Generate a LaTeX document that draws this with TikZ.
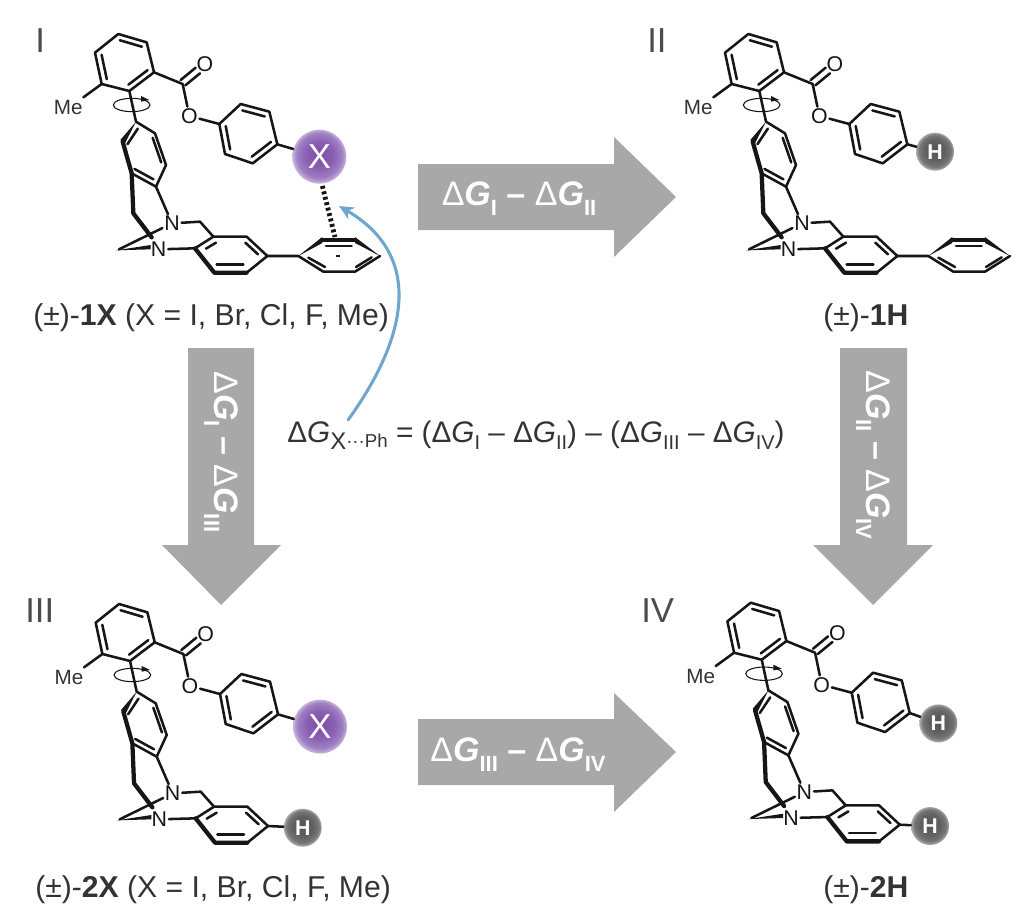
\documentclass[tikz,border=0pt]{standalone}
\usepackage{fontspec}
\setmainfont{Liberation Sans}
\usetikzlibrary{arrows.meta,calc}
\definecolor{bondc}{HTML}{161616}
\definecolor{labelc}{HTML}{333333}
\definecolor{blockc}{HTML}{A8A8A8}
\definecolor{bluec}{HTML}{6FA6CE}
\definecolor{xa}{HTML}{7A4EA6}
\definecolor{xb}{HTML}{8A60B2}
\definecolor{xc}{HTML}{9F80C4}
\definecolor{xd}{HTML}{DCCFEA}
\definecolor{ha}{HTML}{555555}
\definecolor{hb}{HTML}{606060}
\definecolor{hc}{HTML}{767676}
\definecolor{hd}{HTML}{C8C8C8}
\pgfdeclareradialshading{xball}{\pgfpoint{0bp}{3bp}}{color(0bp)=(xa);color(13bp)=(xb);color(21bp)=(xc);color(27bp)=(xd);color(30bp)=(xd)}
\pgfdeclareradialshading{hball}{\pgfpoint{0bp}{3bp}}{color(0bp)=(ha);color(13bp)=(hb);color(21bp)=(hc);color(27bp)=(hd);color(30bp)=(hd)}
\newcommand{\sbs}[1]{\raisebox{-0.45ex}{\fontsize{15pt}{16pt}\selectfont #1}}
\newcommand{\sbb}[1]{\raisebox{-0.55ex}{\fontsize{16.5pt}{17pt}\selectfont #1}}
\newcommand{\dG}[1]{Δ\textit{G}\sbs{#1}}
\newcommand{\dGb}[1]{{\mdseries Δ}\textit{G}\sbb{#1}}
\newcommand{\inner}[3]{\draw[bond] ($(#1)!0.22!(#3)$) -- ($(#2)!0.22!(#3)$);}
\tikzset{
  bond/.style={draw=bondc,line width=1.9pt,line cap=round,line join=round},
  thickbond/.style={draw=bondc,line width=3.2pt,line cap=round,line join=round},
  atom/.style={font=\fontsize{15pt}{16pt}\selectfont,text=bondc,inner sep=1.2pt},
  molbase/.style={font=\fontsize{22.6pt}{24pt}\selectfont,text=labelc,anchor=base west,inner sep=0pt},
  numeral/.style={font=\fontsize{26pt}{28pt}\selectfont,text=black!70,anchor=base west,inner sep=0pt},
  blockarrow/.style={fill=blockc,draw=none},
  arrowtext/.style={font=\fontsize{25.5pt}{27pt}\selectfont\bfseries,text=white,inner sep=0pt},
  rotarrowtext/.style={arrowtext,rotate=-90},
  xballn/.style={circle,shading=xball,minimum size=40.5pt,inner sep=0pt,text=white,font=\fontsize{26pt}{28pt}\selectfont},
  hballn/.style={circle,shading=hball,minimum size=28.5pt,inner sep=0pt,text=white,font=\fontsize{16pt}{18pt}\selectfont\bfseries}
}
\newcommand{\molcore}[3]{%
\begin{scope}[shift={(30+#1,10+#2)},x=.25pt,y=-.25pt,name prefix=#3-]
  \coordinate (a1) at (195,128); \coordinate (a2) at (265,72); \coordinate (a3) at (350,97);
  \coordinate (a4) at (372,187); \coordinate (a5) at (298,243); \coordinate (a6) at (215,222);
  \coordinate (ac) at (285,157);
  \draw[bond] (a1)--(a2)--(a3)--(a4)--(a5)--(a6)--cycle;
  \inner{a1}{a6}{ac}\inner{a2}{a3}{ac}\inner{a4}{a5}{ac}
  \node[atom,font=\fontsize{15.5pt}{16pt}\selectfont,text=labelc] (me) at (115,293) {Me};
  \draw[bond] (a6)--(160,262);
  \coordinate (c7) at (458,222);
  \node[atom,font=\fontsize{16pt}{17pt}\selectfont] (o1) at (525,163) {O};
  \node[atom,font=\fontsize{16pt}{17pt}\selectfont] (o2) at (478,318) {O};
  \draw[bond] (a4)--(c7)--(o2);
  \draw[bond] (452,210)--(497,173);
  \draw[bond] (466,226)--(510,190);
  \coordinate (e1) at (568,342); \coordinate (e2) at (632,282); \coordinate (e3) at (718,305);
  \coordinate (e4) at (742,403); \coordinate (e5) at (668,460); \coordinate (e6) at (585,432);
  \coordinate (ec) at (655,370);
  \draw[bond] (e1)--(e2)--(e3)--(e4)--(e5)--(e6)--cycle;
  \inner{e1}{e6}{ec}\inner{e2}{e3}{ec}\inner{e4}{e5}{ec}
  \draw[bond] (o2)--(e1);
  \coordinate (b1) at (318,335); \coordinate (b2) at (375,370); \coordinate (b3) at (408,465);
  \coordinate (b4) at (378,530); \coordinate (b5) at (305,490); \coordinate (b6) at (278,395);
  \coordinate (bc) at (343,430);
  \draw[bond] (b1)--(b2)--(b3)--(b4)--(b5);
  \fill[bondc] (b1) -- ($(b6)+(-7,-5)$) -- ($(b6)+(7,5)$) -- cycle;
  \draw[thickbond] (b6)--(b5)--(310,610)--(365,682);
  \inner{b1}{b6}{bc}\inner{b2}{b3}{bc}\inner{b4}{b5}{bc}
  \draw[bond] (a5)--(b1);
  \draw[draw=bondc,line width=.8pt] (305,285) ellipse [x radius=55,y radius=20];
  \fill[bondc] (333,258)--(358,270)--(333,275)--cycle;
  \node[atom,font=\fontsize{16pt}{17pt}\selectfont] (nu) at (426,640) {N};
  \node[atom,font=\fontsize{16pt}{17pt}\selectfont] (nl) at (386,718) {N};
  \draw[bond] (b4)--(nu);
  \draw[bond] (267,718)--(nu);
  \fill[bondc] (258,721)--(362,705)--(362,718)--cycle;
  \coordinate (ch) at (510,635);
  \coordinate (c1) at (550,680); \coordinate (c2) at (650,680); \coordinate (c3) at (712,738);
  \coordinate (c4) at (650,788); \coordinate (c5) at (553,788); \coordinate (c6) at (495,715);
  \draw[bond] (nu)--(ch)--(c1);
  \draw[bond] (c1)--(c2)--(c3)--(c4);
  \draw[bond] (c6)--(c1);
  \draw[thickbond] (c6)--(c5)--(c4);
  \draw[bond] (nl)--(c6);
  \draw[bond] (558,698)--(528,716);
  \draw[bond] (646,698)--(684,733);
  \draw[bond] (560,763)--(640,763);
\end{scope}}
\newcommand{\topball}[6]{%
\begin{scope}[shift={(30+#1,10+#2)},x=.25pt,y=-.25pt,name prefix=#3-]
  \node[#4] (tb) at (#5) {#6};
  \draw[bond] (e4)--(tb);
\end{scope}}
\newcommand{\lowball}[4]{%
\begin{scope}[shift={(30+#1,10+#2)},x=.25pt,y=-.25pt,name prefix=#3-]
  \node[hballn] (lb) at (#4) {H};
  \draw[bond] (c3)--(lb);
\end{scope}}
\newcommand{\ringd}[3]{%
\begin{scope}[shift={(30+#1,10+#2)},x=.25pt,y=-.25pt,name prefix=#3-]
  \coordinate (d1) at (805,738); \coordinate (d2) at (875,690); \coordinate (d3) at (975,690);
  \coordinate (d4) at (1050,738); \coordinate (d5) at (975,785); \coordinate (d6) at (880,785);
  \draw[bond] (c3)--(d1)--(d6)--(d5)--(d4);
  \fill[bondc] (d1) -- ($(d2)+(2,-9)$) -- ($(d2)+(2,9)$) -- cycle;
  \draw[thickbond] (d2)--(d3);
  \fill[bondc] (d4) -- ($(d3)+(0,-9)$) -- ($(d3)+(0,9)$) -- cycle;
  \draw[bond] (888,708)--(965,708);
  \draw[bond] (835,743)--(885,771);
  \draw[bond] (978,771)--(1025,742);
\end{scope}}
\begin{document}
\begin{tikzpicture}[x=.75pt,y=-.75pt]
\useasboundingbox (0,0) rectangle (1017,924);
\fill[blockarrow] (418,164)--(614,164)--(614,137)--(676,197)--(614,257)--(614,230)--(418,230)--cycle;
\fill[blockarrow] (418,719)--(614,719)--(614,693)--(676,752)--(614,812)--(614,785)--(418,785)--cycle;
\fill[blockarrow] (188,348)--(254,348)--(254,545)--(281,545)--(221,605)--(162,545)--(188,545)--cycle;
\fill[blockarrow] (840,348)--(907,348)--(907,545)--(933,545)--(873,605)--(813,545)--(840,545)--cycle;
\node[arrowtext,anchor=center] (t12) at (519,199) {\dGb{I} – \dGb{II}};
\node[arrowtext,anchor=center] (t34) at (518,755) {\dGb{III} – \dGb{IV}};
\node[rotarrowtext,anchor=center] (t13) at (221,452) {\dGb{I} – \dGb{III}};
\node[rotarrowtext,anchor=center] (t24) at (873,455) {\dGb{II} – \dGb{IV}};
\molcore{0}{0}{A}
\molcore{630}{0}{B}
\molcore{0.7}{570}{C}
\molcore{632.4}{568.7}{D}
\topball{0}{0}{A}{xballn}{868,440}{X}
\topball{630}{0}{B}{hballn}{825,425}{H}
\topball{0.7}{570}{C}{xballn}{868,440}{X}
\topball{632.4}{568.7}{D}{hballn}{828,434}{H}
\ringd{0}{0}{A}
\ringd{630}{0}{B}
\lowball{0.7}{570}{C}{816,743}
\lowball{632.4}{568.7}{D}{803,742}
\coordinate (hatche) at (335,237);
\draw[draw=bondc,line width=3.6pt,dash pattern=on 2.2pt off 2pt] (A-tb.south) ++(3,2) -- (hatche);
\node[inner sep=0pt,minimum width=3pt,minimum height=1pt,fill=bondc] (dcdot) at (338,256) {};
\coordinate (bs) at (348,420);
\coordinate (bt) at (339,206);
\draw[draw=bluec,line width=2.3pt,line cap=round,-{Stealth[length=11pt,width=10pt]}] (bs) .. controls (388,365) and (440,265) .. (bt);
\node[molbase] (l1) at (33,325) {(±)-\textbf{1X} (X = I, Br, Cl, F, Me)};
\node[molbase] (l2) at (823,325) {(±)-\textbf{1H}};
\node[molbase] (l3) at (35,897) {(±)-\textbf{2X} (X = I, Br, Cl, F, Me)};
\node[molbase] (l4) at (823,897) {(±)-\textbf{2H}};
\node[numeral] (n1) at (35,53) {I};
\node[numeral] (n2) at (647,53) {II};
\node[numeral] (n3) at (25,622) {III};
\node[numeral] (n4) at (641,622) {IV};
\node[anchor=base west,inner sep=0pt,font=\fontsize{22.3pt}{24pt}\selectfont,text=labelc] (eq) at (287,442)
 {Δ\textit{G}\raisebox{-0.5ex}{\fontsize{18pt}{19pt}\selectfont X}\raisebox{-0.35ex}{\fontsize{14pt}{15pt}\selectfont ···Ph} = (\dG{I} – \dG{II}) – (\dG{III} – \dG{IV})};
\end{tikzpicture}
\end{document}
